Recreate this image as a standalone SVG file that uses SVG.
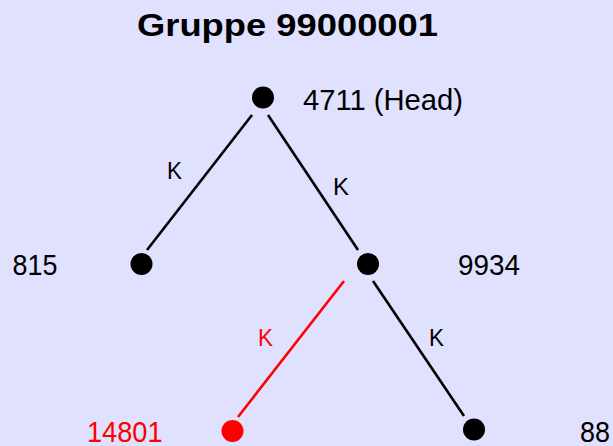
<svg xmlns="http://www.w3.org/2000/svg" width="613" height="446" viewBox="0 0 613 446">
<style>
.bg{fill:#E0E0FF}
.title{font-family:"Liberation Sans",Arial,sans-serif;font-weight:bold;font-size:32px;fill:#000}
.lbl{font-family:"Liberation Sans Narrow","Liberation Sans",Arial,sans-serif;font-size:30px;fill:#000}
.k{font-family:"Liberation Sans Narrow","Liberation Sans",Arial,sans-serif;font-size:24px;fill:#000}
.red{fill:#FF0000}
.edge{stroke:#000;stroke-width:2.6;fill:none}
.edge.r{stroke:#FF0000}
.dot{fill:#000}
</style>
<rect class="bg" x="0" y="0" width="613" height="446"/>
<text class="title" x="137" y="36" textLength="301" lengthAdjust="spacingAndGlyphs">Gruppe 99000001</text>
<g id="connectors">
<line class="edge" x1="252" y1="115" x2="147" y2="250"/>
<text class="k" x="167" y="179" textLength="15" lengthAdjust="spacingAndGlyphs">K</text>
<line class="edge" x1="268" y1="115" x2="358" y2="250"/>
<text class="k" x="333" y="195" textLength="16" lengthAdjust="spacingAndGlyphs">K</text>
<line class="edge r" x1="344" y1="281" x2="238" y2="417"/>
<text class="k red" x="258" y="346" textLength="15" lengthAdjust="spacingAndGlyphs">K</text>
<line class="edge" x1="373" y1="281" x2="464" y2="416"/>
<text class="k" x="429" y="346" textLength="15" lengthAdjust="spacingAndGlyphs">K</text>
</g>
<g id="n4711">
<circle class="dot" cx="263" cy="97.5" r="11"/>
<text class="lbl" x="303" y="109.5" font-size="28" textLength="160" lengthAdjust="spacingAndGlyphs">4711 (Head)</text>
</g>
<g id="n815">
<circle class="dot" cx="141.5" cy="264" r="11"/>
<text class="lbl" x="12.5" y="274.5" textLength="45" lengthAdjust="spacingAndGlyphs">815</text>
</g>
<g id="n9934">
<circle class="dot" cx="368" cy="264" r="11"/>
<text class="lbl" x="458" y="274.5" textLength="62" lengthAdjust="spacingAndGlyphs">9934</text>
</g>
<g id="n14801">
<circle class="red" cx="232.5" cy="431" r="11"/>
<text class="lbl red" x="87" y="441.5" textLength="75.5" lengthAdjust="spacingAndGlyphs">14801</text>
</g>
<g id="n88">
<circle class="dot" cx="474" cy="429.5" r="11"/>
<text class="lbl" x="580" y="441.5" textLength="30" lengthAdjust="spacingAndGlyphs">88</text>
</g>
</svg>
